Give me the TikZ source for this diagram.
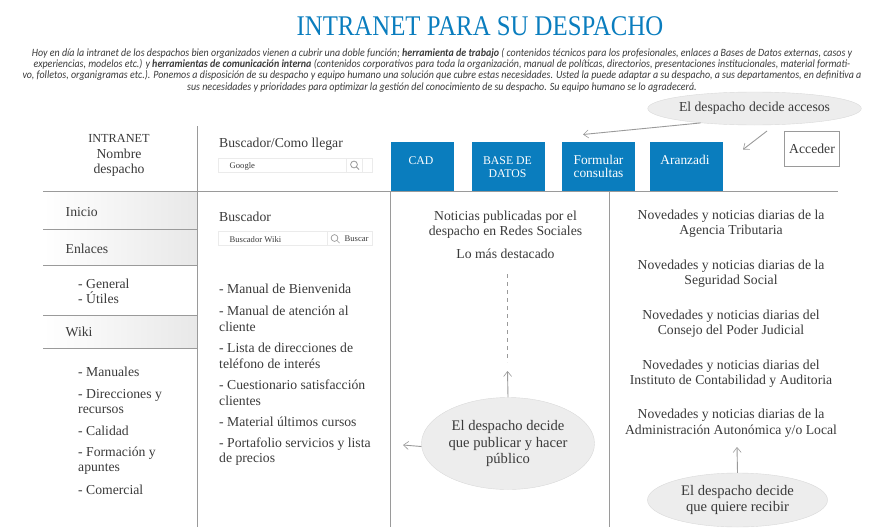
\documentclass[tikz,border=0pt]{standalone}
\usepackage{fontspec}
\setmainfont{Liberation Serif}
\newfontfamily\titlefont[FakeStretch=0.87]{Liberation Serif}
\newfontfamily\parafont[FakeStretch=0.9]{Carlito}
\usetikzlibrary{shapes.geometric,arrows.meta}
\definecolor{ink}{HTML}{3A3A3A}
\definecolor{blu}{HTML}{0A7DBE}
\definecolor{rule}{HTML}{9A9A9A}
\definecolor{ell}{HTML}{EDEDED}
\tikzset{
  rulel/.style={draw=rule,line width=1pt},
  txt/.style={text=ink,inner sep=0pt,yshift=-0.2pt,font=\fontsize{13.7}{15.4}\selectfont},
  ltxt/.style={txt,anchor=west,align=left},
  ctxt/.style={txt,align=center},
  tab/.style={fill=blu,draw=none,minimum height=49pt,inner sep=0pt,anchor=north west},
  tabt/.style={text=white,inner sep=0pt,align=center,anchor=north,font=\fontsize{13.4}{13}\selectfont},
  capst/.style={tabt,font=\fontsize{11.8}{13}\selectfont},
  bubble/.style={ellipse,fill=ell,draw=black!15,line width=.4pt,inner sep=0pt,text=ink,align=center},
  bigb/.style={bubble,font=\fontsize{14.6}{16.3}\selectfont},
  smallb/.style={bubble,font=\fontsize{13.7}{16}\selectfont},
  arr/.style={draw=rule,line width=.9pt,-{Straight Barb[length=5pt,width=8pt,line width=.6pt]}},
  sbox/.style={draw=black!8,line width=.6pt},
  small/.style={text=ink,inner sep=0pt,anchor=west,yshift=-0.6pt,font=\fontsize{8.6}{10}\selectfont},
  menu/.style={left color=white,right color=black!9,draw=none},
}
\begin{document}
\begin{tikzpicture}[x=1pt,y=-1pt]
\useasboundingbox (0,0) rectangle (885,527);
% menu shades
\fill[menu] (43,192) rectangle (197,229);
\fill[menu] (43,230) rectangle (197,265);
\fill[menu] (43,316) rectangle (197,348);
% title and intro
\node[inner sep=0pt,text=blu] (title) at (480,26) {\titlefont\fontsize{28.5}{30}\selectfont INTRANET PARA SU DESPACHO};
\node[inner sep=0pt,text=ink,align=center,font=\parafont\itshape\fontsize{11.1}{11.4}\selectfont] (intro) at (442,70) {Hoy en día la intranet de los despachos bien organizados vienen a cubrir una doble función; \textbf{herramienta de trabajo} ( contenidos técnicos para los profesionales, enlaces a Bases de Datos externas, casos y\\
experiencias, modelos etc.) y \textbf{herramientas de comunicación interna} (contenidos corporativos para toda la organización, manual de políticas, directorios, presentaciones institucionales, material formati-\\
vo, folletos, organigramas etc.). Ponemos a disposición de su despacho y equipo humano una solución que cubre estas necesidades. Usted la puede adaptar a su despacho, a sus departamentos, en definitiva a\\
sus necesidades y prioridades para optimizar la gestión del conocimiento de su despacho. Su equipo humano se lo agradecerá.};
% blue tabs
\node[tab,minimum width=63pt] (cad) at (390.5,142) {};
\node[tab,minimum width=73pt] (bd) at (471.5,142) {};
\node[tab,minimum width=73pt] (fc) at (562,142) {};
\node[tab,minimum width=73pt] (ar) at (649.5,142) {};
\node[capst] at (421,156) {CAD};
\node[capst] at (507.5,156) {BASE DE\\DATOS};
\node[tabt] at (598.5,155) {Formular\\consultas};
\node[tabt] at (685,155) {Aranzadi};
% rules
\draw[rulel] (43,191) -- (838,191);
\draw[rulel] (197.5,126) -- (197.5,527);
\draw[rulel] (390.5,191) -- (390.5,527);
\draw[rulel] (609.5,191) -- (609.5,527);
\draw[rulel] (43,229.5) -- (197,229.5);
\draw[rulel] (43,265.5) -- (197,265.5);
\draw[rulel] (43,315.5) -- (197,315.5);
\draw[rulel] (43,348) -- (197,348);
% acceder
\node[draw=rule,line width=1pt,minimum width=55pt,minimum height=35pt,inner sep=0pt,text=ink,font=\fontsize{13.7}{15}\selectfont] (acc) at (812,149) {\raisebox{1.5pt}{Acceder}};
% left column
\node[ctxt] (brand) at (119,155.5) {{\fontsize{12.3}{15.4}\selectfont INTRANET}\\Nombre\\despacho};
\node[ltxt] at (65.5,212) {Inicio};
\node[ltxt] at (65.5,249) {Enlaces};
\node[ltxt] at (78,291) {- General\\- Útiles};
\node[ltxt] at (65.5,332) {Wiki};
\node[ltxt] at (78,372) {- Manuales};
\node[ltxt] at (78,401.5) {- Direcciones y\\recursos};
\node[ltxt] at (78,431) {- Calidad};
\node[ltxt] at (78,460.5) {- Formación y\\apuntes};
\node[ltxt] at (78,490) {- Comercial};
% second column
\node[ltxt] at (219,144) {Buscador/Como llegar};
\draw[sbox] (218.5,158.5) rectangle (372.5,172);
\draw[sbox] (346,158.5) -- (346,172) (362,158.5) -- (362,172);
\node[small] at (229.5,165.5) {Google};
\draw[black!40,line width=.8pt] (354,164.5) circle (3.4pt) (356.5,167) -- (359,169.5);
\node[ltxt] at (219,217) {Buscador};
\draw[sbox] (218.5,231.5) rectangle (372.5,245);
\draw[sbox] (327,231.5) -- (327,245);
\node[small] at (229.5,238.5) {Buscador Wiki};
\draw[black!40,line width=.7pt] (334.5,238) circle (3.4pt) (337,240.5) -- (339.5,243);
\node[small] at (344.5,238.5) {Buscar};
\node[ltxt] at (219,289) {- Manual de Bienvenida};
\node[ltxt] at (219,318.5) {- Manual de atención al\\cliente};
\node[ltxt] at (219,355.5) {- Lista de direcciones de\\teléfono de interés};
\node[ltxt] at (219,392.5) {- Cuestionario satisfacción\\clientes};
\node[ltxt] at (219,422) {- Material últimos cursos};
\node[ltxt] at (219,451.5) {- Portafolio servicios y lista\\de precios};
% middle column
\node[ctxt] (not) at (505.5,224.5) {Noticias publicadas por el\\despacho en Redes Sociales};
\node[ctxt] (dest) at (505.5,254) {Lo más destacado};
% right column
\node[ctxt] (n1) at (731,223.5) {Novedades y noticias diarias de la\\Agencia Tributaria};
\node[ctxt] (n2) at (731,273.5) {Novedades y noticias diarias de la\\Seguridad Social};
\node[ctxt] (n3) at (731,323.5) {Novedades y noticias diarias del\\Consejo del Poder Judicial};
\node[ctxt] (n4) at (731,373.5) {Novedades y noticias diarias del\\Instituto de Contabilidad y Auditoria};
\node[ctxt] (n5) at (731,423) {Novedades y noticias diarias de la\\Administración Autonómica y/o Local};
% bubbles
\node[smallb,minimum width=173pt,minimum height=33pt] (bacc) at (754.5,108.5) {El despacho decide accesos};
\node[bigb,minimum width=173pt,minimum height=92pt] (bpub) at (508,443.5) {El despacho decide\\que publicar y hacer\\público};
\node[bigb,minimum width=180pt,minimum height=54pt] (brec) at (737.5,500) {El despacho decide\\que quiere recibir};
% connectors
\coordinate (t1) at (583,134.5);
\coordinate (t2) at (743,149.5);
\coordinate (s2) at (767,131);
\coordinate (t3) at (507.5,371);
\coordinate (t4) at (403,445);
\coordinate (t5) at (737,447);
\coordinate (d1) at (507.5,274);
\coordinate (d2) at (507.5,362);
\draw[arr] (bacc.195) -- (t1);
\draw[arr] (s2) -- (t2);
\draw[rule,line width=.7pt,dash pattern=on 4pt off 4pt] (d1) -- (d2);
\draw[arr] (bpub.north) -- (t3);
\draw[arr] (bpub.182) -- (t4);
\draw[arr] (brec.north) -- (t5);
\end{tikzpicture}
\end{document}
